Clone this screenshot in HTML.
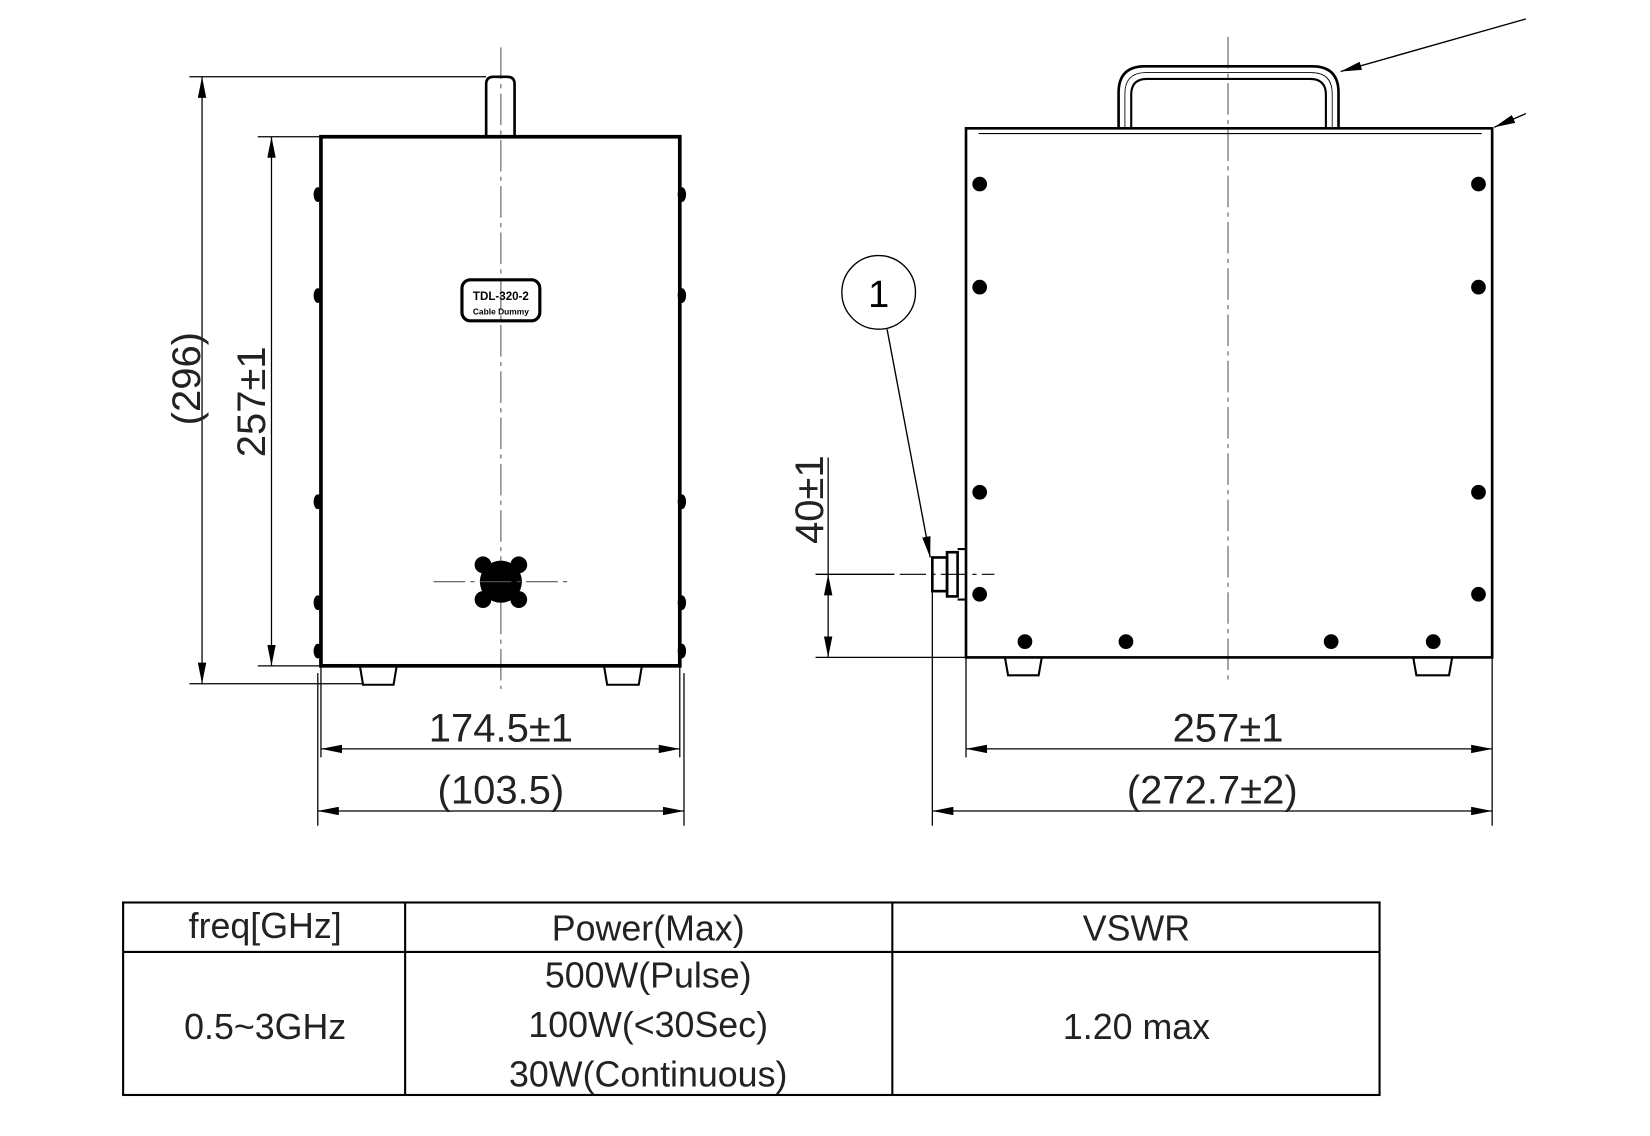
<!DOCTYPE html>
<html><head><meta charset="utf-8"><style>html,body{margin:0;padding:0;background:#fff;}svg{display:block}</style></head>
<body>
<svg width="1650" height="1136" viewBox="0 0 1568 1080" preserveAspectRatio="none" xmlns="http://www.w3.org/2000/svg" font-family="Liberation Sans, sans-serif">
<defs>
<marker id="a" viewBox="0 0 20 8" refX="20" refY="4" markerWidth="20" markerHeight="8" markerUnits="userSpaceOnUse" orient="auto-start-reverse"><path d="M0,0 L20,4 L0,8 Z" fill="#000"/></marker>
</defs>
<g stroke="#000" fill="none">
<line x1="476" y1="45" x2="476" y2="655" stroke-width="1" stroke-dasharray="30,5,4,5" stroke="#555"/>
<rect x="305" y="130" width="341" height="503" stroke-width="3.5"/>
<path d="M462,130 V80 Q462,73 469,73 H482 Q489,73 489,80 V130" stroke-width="2.5"/>
<path d="M342,633 L345,651 H374 L377,633 M574,633 L577,651 H607 L610,633" stroke-width="2"/>
<g fill="#000" stroke="none">
<ellipse cx="302" cy="185" rx="4" ry="7"/><ellipse cx="302" cy="281" rx="4" ry="7"/><ellipse cx="302" cy="477" rx="4" ry="7"/><ellipse cx="302" cy="573" rx="4" ry="7"/><ellipse cx="302" cy="619" rx="4" ry="7"/>
<ellipse cx="648" cy="185" rx="4" ry="7"/><ellipse cx="648" cy="281" rx="4" ry="7"/><ellipse cx="648" cy="477" rx="4" ry="7"/><ellipse cx="648" cy="573" rx="4" ry="7"/><ellipse cx="648" cy="619" rx="4" ry="7"/>
<circle cx="476" cy="553" r="20"/><circle cx="459" cy="537" r="8"/><circle cx="493" cy="537" r="8"/><circle cx="459" cy="570" r="8"/><circle cx="493" cy="570" r="8"/>
</g>
<line x1="412" y1="553" x2="540" y2="553" stroke-width="1" stroke-dasharray="30,5,4,5" stroke="#555"/>
<rect x="439" y="266" width="74" height="39" rx="8" stroke-width="3"/>
<line x1="180" y1="73" x2="462" y2="73" stroke-width="1.2"/>
<line x1="180" y1="650" x2="345" y2="650" stroke-width="1.2"/>
<line x1="192" y1="73" x2="192" y2="650" stroke-width="1.2" marker-start="url(#a)" marker-end="url(#a)"/>
<line x1="245" y1="130" x2="305" y2="130" stroke-width="1.2"/>
<line x1="245" y1="633" x2="305" y2="633" stroke-width="1.2"/>
<line x1="258" y1="130" x2="258" y2="633" stroke-width="1.2" marker-start="url(#a)" marker-end="url(#a)"/>
<line x1="305" y1="633" x2="305" y2="720" stroke-width="1.2"/>
<line x1="646" y1="633" x2="646" y2="720" stroke-width="1.2"/>
<line x1="305" y1="712" x2="646" y2="712" stroke-width="1.2" marker-start="url(#a)" marker-end="url(#a)"/>
<line x1="302" y1="640" x2="302" y2="785" stroke-width="1.2"/>
<line x1="650" y1="640" x2="650" y2="785" stroke-width="1.2"/>
<line x1="302" y1="771" x2="650" y2="771" stroke-width="1.2" marker-start="url(#a)" marker-end="url(#a)"/>
<line x1="1167" y1="35" x2="1167" y2="650" stroke-width="1" stroke-dasharray="30,5,4,5" stroke="#555"/>
<rect x="918" y="122" width="500" height="503" stroke-width="2.5"/>
<line x1="930" y1="127" x2="1408" y2="127" stroke-width="1"/>
<path d="M1063,122 V88 Q1063,63 1088,63 H1247 Q1272,63 1272,88 V122" stroke-width="2.5"/>
<path d="M1075,122 V90 Q1075,75 1090,75 H1245 Q1260,75 1260,90 V122" stroke-width="2"/>
<path d="M1069,122 V89 Q1069,69 1089,69 H1246 Q1266,69 1266,89 V122" stroke-width="0.8"/>
<path d="M955,625 L958,642 H987 L990,625 M1343,625 L1346,642 H1377 L1380,625" stroke-width="2"/>
<g fill="#000" stroke="none">
<circle cx="931" cy="175" r="7"/><circle cx="931" cy="273" r="7"/><circle cx="931" cy="468" r="7"/><circle cx="931" cy="565" r="7"/>
<circle cx="1405" cy="175" r="7"/><circle cx="1405" cy="273" r="7"/><circle cx="1405" cy="468" r="7"/><circle cx="1405" cy="565" r="7"/>
<circle cx="974" cy="610" r="7"/><circle cx="1070" cy="610" r="7"/><circle cx="1265" cy="610" r="7"/><circle cx="1362" cy="610" r="7"/>
</g>
<rect x="886" y="530" width="14" height="32" stroke-width="2.5"/>
<rect x="900" y="525" width="10" height="42" stroke-width="2.5"/>
<line x1="910" y1="522" x2="918" y2="522" stroke-width="2"/>
<line x1="910" y1="570" x2="918" y2="570" stroke-width="2"/>
<line x1="855" y1="546" x2="945" y2="546" stroke-width="1" stroke-dasharray="25,5,4,5"/>
<line x1="1450" y1="18" x2="1274" y2="68" stroke-width="1.3" marker-end="url(#a)"/>
<line x1="1450" y1="108" x2="1420" y2="121" stroke-width="1.3" marker-end="url(#a)"/>
<circle cx="835" cy="278" r="35" stroke-width="1.3"/>
<line x1="843" y1="313" x2="884" y2="530" stroke-width="1.3" marker-end="url(#a)"/>
<line x1="775" y1="546" x2="850" y2="546" stroke-width="1.2"/>
<line x1="775" y1="625" x2="918" y2="625" stroke-width="1.2"/>
<line x1="787" y1="435" x2="787" y2="546" stroke-width="1.2"/>
<line x1="787" y1="546" x2="787" y2="625" stroke-width="1.2" marker-start="url(#a)" marker-end="url(#a)"/>
<line x1="918" y1="625" x2="918" y2="720" stroke-width="1.2"/>
<line x1="1418" y1="625" x2="1418" y2="785" stroke-width="1.2"/>
<line x1="918" y1="712" x2="1418" y2="712" stroke-width="1.2" marker-start="url(#a)" marker-end="url(#a)"/>
<line x1="886" y1="560" x2="886" y2="785" stroke-width="1.2"/>
<line x1="886" y1="771" x2="1418" y2="771" stroke-width="1.2" marker-start="url(#a)" marker-end="url(#a)"/>
<rect x="117" y="858" width="1194" height="183" stroke-width="2"/>
<line x1="117" y1="905" x2="1311" y2="905" stroke-width="2"/>
<line x1="385" y1="858" x2="385" y2="1041" stroke-width="2"/>
<line x1="848" y1="858" x2="848" y2="1041" stroke-width="2"/>
</g>
<g fill="#000" text-anchor="middle">
<text x="476" y="285" font-size="11" font-weight="bold">TDL-320-2</text>
<text x="476" y="299" font-size="8" font-weight="bold">Cable Dummy</text>
<text x="835" y="292" font-size="36" font-weight="300">1</text>
</g>
<g fill="#222" text-anchor="middle" font-size="38">
<text transform="translate(190,360) rotate(-90)">(296)</text>
<text transform="translate(252,382) rotate(-90)">257±1</text>
<text transform="translate(782,475) rotate(-90)">40±1</text>
<text x="476" y="705">174.5±1</text>
<text x="476" y="764">(103.5)</text>
<text x="1167" y="705">257±1</text>
<text x="1152" y="764">(272.7±2)</text>
<text x="252" y="892" font-size="34">freq[GHz]</text>
<text x="616" y="894" font-size="34">Power(Max)</text>
<text x="1080" y="894" font-size="34">VSWR</text>
<text x="252" y="988" font-size="34">0.5~3GHz</text>
<text x="616" y="939" font-size="34">500W(Pulse)</text>
<text x="616" y="986" font-size="34">100W(&lt;30Sec)</text>
<text x="616" y="1033" font-size="34">30W(Continuous)</text>
<text x="1080" y="988" font-size="34">1.20 max</text>
</g>
</svg>
</body></html>
